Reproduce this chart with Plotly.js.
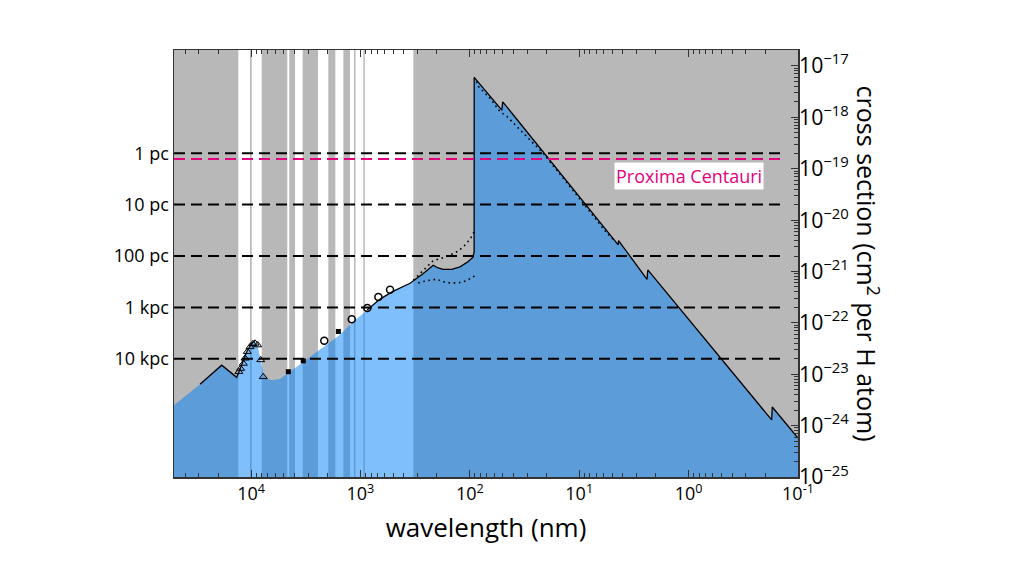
<!DOCTYPE html>
<html>
<head>
<meta charset="utf-8">
<script src="https://cdn.plot.ly/plotly-3.0.1.min.js"></script>
<style>
  body { margin: 0; background: #fff; }
  #graph { width: 1024px; height: 574px; }
</style>
</head>
<body>
<div id="graph"></div>
<script>
// absorption edge of the fill (wavelength in nm, cross section in cm^2 per H atom)
const edgeWl = [50600, 29240, 18530, 13520, 12080, 10890, 9860, 9290, 8730, 8280, 7760, 7290, 6430,
    5430, 4590, 3330, 2340, 1600, 1190, 869, 661, 514, 352, 266, 216, 195, 175, 146, 123, 104, 93.5,
    91.3, 91.2, 51.0, 50.0, 4.40, 4.37, 2.40, 2.36, 0.174, 0.172, 0.1];
const edgeSigma = [2.5e-24, 6.4e-24, 1.5e-23, 8.7e-24, 1.6e-23, 2.8e-23, 4.0e-23, 4.5e-23, 3.7e-23, 2.2e-23,
    1.1e-23, 8.3e-24, 7.6e-24, 8.1e-24, 1.05e-23, 1.74e-23, 2.95e-23, 5.5e-23, 1.0e-22, 1.78e-22, 2.9e-22,
    4.0e-22, 5.9e-22, 9.1e-22, 1.32e-21, 1.17e-21, 1.10e-21, 1.10e-21, 1.23e-21, 1.55e-21, 1.9e-21,
    2.4e-21, 6.0e-18, 1.38e-18, 2.0e-18, 3.3e-21, 4.0e-21, 7.0e-22, 1.07e-21, 1.29e-24, 2.3e-24, 5.75e-25];

// dotted model curves
const dotUpWl = [328, 285, 216, 163, 127, 107, 96, 91.6];
const dotUpSigma = [6.8e-22, 9.1e-22, 1.62e-21, 1.95e-21, 2.5e-21, 3.5e-21, 4.8e-21, 5.9e-21];
const dotLowWl = [296, 248, 201, 175, 152, 127, 107, 89.5];
const dotLowSigma = [6.0e-22, 6.6e-22, 7.1e-22, 6.3e-22, 6.0e-22, 6.0e-22, 6.6e-22, 8.3e-22];
const dotSlopeWl = [86.9, 83.6, 65.3, 53.0, 46.0, 21.4, 11.4, 5.6, 4.7];
const dotSlopeSigma = [5.0e-18, 4.0e-18, 2.35e-18, 1.29e-18, 1.05e-18, 2.0e-19, 3.8e-20, 5.6e-21, 3.9e-21];

// measured points
const triWl = [12910, 12450, 11750, 11350, 10810, 10210, 9640, 9180, 8690, 8150, 7730];
const triSigma = [1.12e-23, 1.29e-23, 1.62e-23, 2.04e-23, 2.75e-23, 3.4e-23, 3.9e-23, 4.0e-23, 3.7e-23, 1.9e-23, 8.9e-24];
const sqWl = [4560, 3330, 1590];
const sqSigma = [1.12e-23, 1.82e-23, 6.8e-23];
const circWl = [2140, 1200, 865, 685, 536];
const circSigma = [4.5e-23, 1.17e-22, 1.95e-22, 3.2e-22, 4.4e-22];

// atmospheric windows (white bands), nm
const windowStart = [10210, 7980, 4467, 3370, 1965, 1432, 1145, 940, 328];
const windowEnd = [13060, 9860, 4660, 3960, 2440, 1695, 1245, 1109, 912];

// distance at which optical depth is 1
const distLabels = ['1 pc', '10 pc', '100 pc', '1 kpc', '10 kpc'];
const distSigma = [2.0e-19, 2.0e-20, 2.0e-21, 2.0e-22, 2.0e-23];
const proximaSigma = 1.55e-19;

const xTicks = [1e4, 1e3, 1e2, 1e1, 1e0, 1e-1];
const xTickText = ['10<sup>4</sup>', '10<sup>3</sup>', '10<sup>2</sup>', '10<sup>1</sup>', '10<sup>0</sup>', '10<sup>-1</sup>'];

const FLOOR = 1e-27;
const xRange = [4.704, -1];
const yRange = [-25, -16.69];
const font = 'Open Sans, Liberation Sans, sans-serif';

// solid line only where the model is drawn
function solidPart(wl) {
    return (wl <= 29240 && wl >= 9000) || wl <= 880;
}
const curveSigma = edgeSigma.map((s, i) => solidPart(edgeWl[i]) ? s : null);

var baseTrace = {
    x: [edgeWl[0], edgeWl[edgeWl.length - 1]],
    y: [FLOOR, FLOOR],
    type: 'scatter', mode: 'lines',
    line: { width: 0 }, hoverinfo: 'skip'
};
var fillTrace = {
    x: edgeWl, y: edgeSigma,
    type: 'scatter', mode: 'lines',
    fill: 'tonexty', fillcolor: 'rgba(0,128,250,0.5)',
    line: { width: 0 }
};
var curveTrace = {
    x: edgeWl, y: curveSigma,
    type: 'scatter', mode: 'lines',
    line: { color: '#000', width: 1.3 },
    connectgaps: false
};

function dotted(x, y) {
    return {
        x: x, y: y, xaxis: 'x', yaxis: 'y2',
        type: 'scatter', mode: 'lines',
        line: { color: '#000', width: 1.6, dash: '1.6px,3.6px' }
    };
}

var triTrace = {
    x: triWl, y: triSigma, xaxis: 'x2', yaxis: 'y',
    type: 'scatter', mode: 'markers',
    marker: { symbol: 'triangle-up-open', size: 7, color: '#000', line: { width: 1 } }
};
var sqTrace = {
    x: sqWl, y: sqSigma, xaxis: 'x2', yaxis: 'y',
    type: 'scatter', mode: 'markers',
    marker: { symbol: 'square', size: 5, color: '#000' }
};
var circTrace = {
    x: circWl, y: circSigma, xaxis: 'x2', yaxis: 'y',
    type: 'scatter', mode: 'markers',
    marker: { symbol: 'circle-open', size: 7, color: '#000', line: { width: 1.5 } }
};

var shapes = [];
for (let i = 0; i < windowStart.length; i++) {
    shapes.push({
        type: 'rect', xref: 'x', yref: 'paper',
        x0: windowStart[i], x1: windowEnd[i], y0: 0, y1: 1,
        fillcolor: '#fff', line: { width: 0 }, layer: 'below'
    });
}
for (let i = 0; i < distSigma.length; i++) {
    shapes.push({
        type: 'line', xref: 'paper', yref: 'y',
        x0: 0, x1: 0.976, y0: distSigma[i], y1: distSigma[i],
        line: { color: '#000', width: 2, dash: '11px,6px' }, layer: 'above'
    });
}
shapes.push({
    type: 'line', xref: 'paper', yref: 'y',
    x0: 0, x1: 0.976, y0: proximaSigma, y1: proximaSigma,
    line: { color: '#e4007c', width: 2, dash: '11px,6px' }, layer: 'above'
});

var layout = {
    width: 1024, height: 574,
    margin: { l: 174, r: 226, t: 50, b: 97 },
    paper_bgcolor: '#fff',
    plot_bgcolor: '#b8b8b8',
    showlegend: false,
    font: { family: font, color: '#000' },
    xaxis: {
        type: 'log', range: xRange, autorange: false,
        tickmode: 'array', tickvals: xTicks, ticktext: xTickText,
        ticks: '', showgrid: false, zeroline: false,
        showline: true, mirror: true, linecolor: '#333', linewidth: 1.5,
        tickfont: { size: 18 },
        title: { text: 'wavelength (nm)', font: { size: 26 }, standoff: 14 }
    },
    xaxis2: {
        type: 'log', range: xRange, autorange: false, overlaying: 'x', anchor: 'y', side: 'bottom',
        dtick: 1, showticklabels: false, showgrid: false, zeroline: false,
        ticks: 'inside', ticklen: 7, tickcolor: '#333', mirror: 'allticks', showline: true,
        linecolor: '#333', linewidth: 1.5,
        minor: { ticks: 'inside', ticklen: 4, dtick: 'D1', tickcolor: '#333', showgrid: false }
    },
    yaxis: {
        type: 'log', range: yRange, autorange: false,
        tickmode: 'array', tickvals: distSigma, ticktext: distLabels,
        ticks: '', showgrid: false, zeroline: false,
        showline: true, mirror: true, linecolor: '#333', linewidth: 1.5,
        tickfont: { size: 18 }
    },
    yaxis2: {
        type: 'log', range: yRange, autorange: false, overlaying: 'y', anchor: 'x', side: 'right',
        dtick: 1, exponentformat: 'power',
        showgrid: false, zeroline: false,
        ticks: 'inside', ticklen: 7, tickcolor: '#333',
        minor: { ticks: 'inside', ticklen: 4, dtick: 'D1', tickcolor: '#333', showgrid: false },
        tickfont: { size: 17 }
    },
    shapes: shapes,
    annotations: [
        {
            xref: 'x', yref: 'y', x: 0, y: Math.log10(proximaSigma), yshift: -17,
            text: 'Proxima Centauri', showarrow: false,
            font: { size: 18, color: '#e4007c' }, bgcolor: '#fff', borderpad: 1
        },
        {
            xref: 'paper', yref: 'paper', x: 1.112, y: 0.5, xanchor: 'center', yanchor: 'middle',
            text: 'cross section (cm<sup>2</sup> per H atom)', showarrow: false,
            textangle: 90, font: { size: 25 }
        }
    ]
};

var data = [baseTrace, fillTrace, curveTrace,
    dotted(dotUpWl, dotUpSigma), dotted(dotLowWl, dotLowSigma), dotted(dotSlopeWl, dotSlopeSigma),
    triTrace, sqTrace, circTrace];

Plotly.newPlot('graph', data, layout, { staticPlot: true });
</script>
</body>
</html>
